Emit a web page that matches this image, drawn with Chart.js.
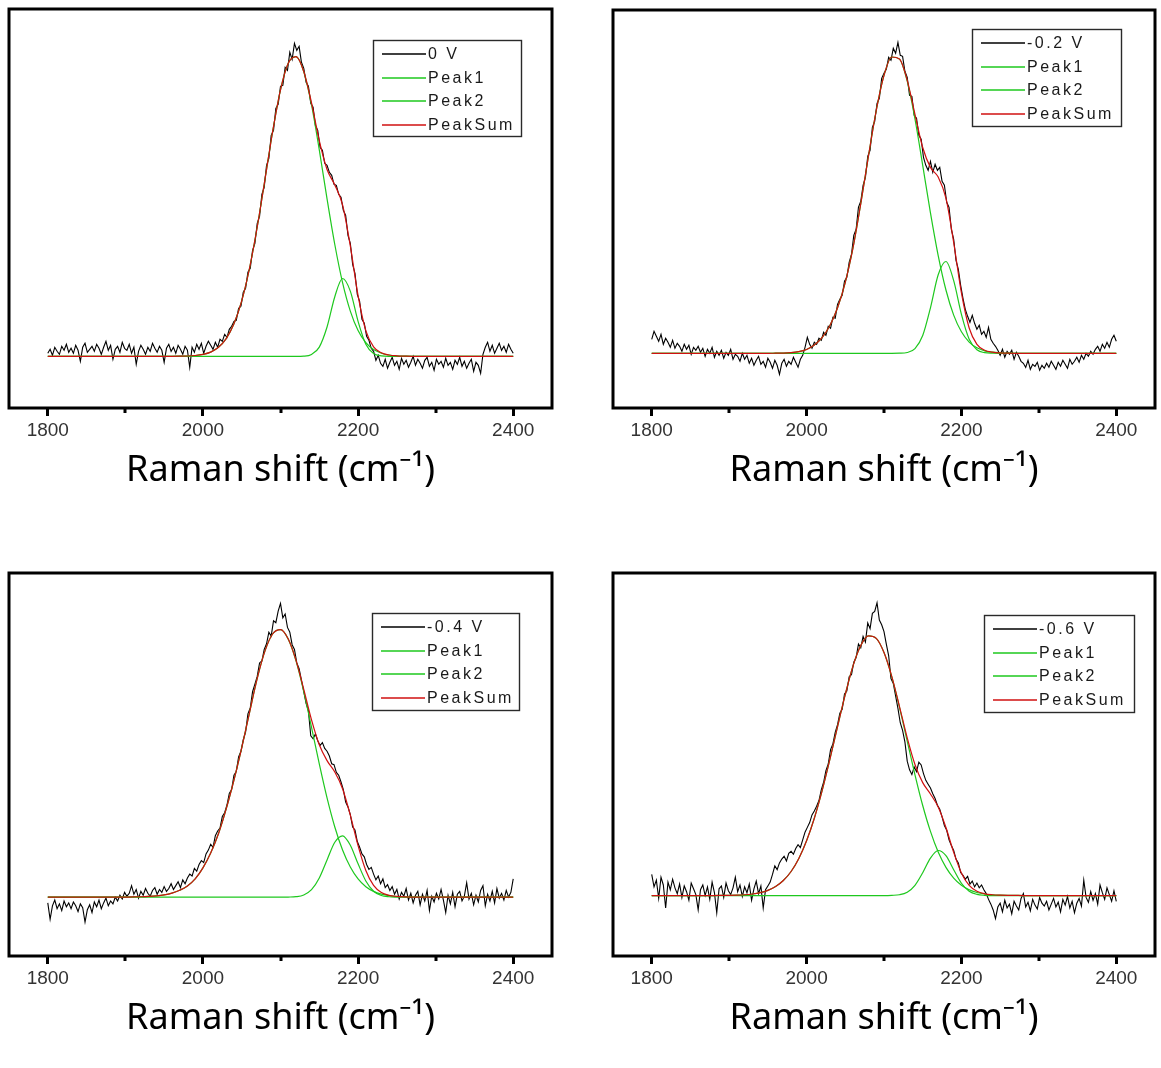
<!DOCTYPE html>
<html>
<head>
<meta charset="utf-8">
<title>Raman spectra, two-peak fits</title>
<script src="https://cdn.jsdelivr.net/npm/chart.js@4.4.1/dist/chart.umd.min.js"></script>
<style>
  html, body { margin: 0; padding: 0; background: #fff; }
  #page { position: relative; width: 1161px; height: 1068px; overflow: hidden; }
  #page canvas { position: absolute; }
</style>
</head>
<body>
<div id="page">
  <canvas id="c0" width="600" height="530" style="left:0;top:0"></canvas>
  <canvas id="c1" width="557" height="530" style="left:604px;top:0"></canvas>
  <canvas id="c2" width="600" height="504" style="left:0;top:564px"></canvas>
  <canvas id="c3" width="557" height="504" style="left:604px;top:564px"></canvas>
</div>
<script>
// x positions of the measured spectra (cm-1)
const RAW_X = [
  1800, 1803, 1806, 1809, 1812, 1815, 1818, 1821, 1824, 1827,
  1830, 1833, 1836, 1839, 1842, 1845, 1848, 1851, 1854, 1857,
  1860, 1863, 1866, 1869, 1872, 1875, 1878, 1881, 1884, 1887,
  1890, 1893, 1896, 1899, 1902, 1905, 1908, 1911, 1914, 1917,
  1920, 1923, 1926, 1929, 1932, 1935, 1938, 1941, 1944, 1947,
  1950, 1953, 1956, 1959, 1962, 1965, 1968, 1971, 1974, 1977,
  1980, 1983, 1986, 1989, 1992, 1995, 1998, 2001, 2004, 2007,
  2010, 2013, 2016, 2019, 2022, 2025, 2028, 2031, 2034, 2037,
  2040, 2043, 2046, 2049, 2052, 2055, 2058, 2061, 2064, 2067,
  2070, 2073, 2076, 2079, 2082, 2085, 2088, 2091, 2094, 2097,
  2100, 2103, 2106, 2109, 2112, 2115, 2118, 2121, 2124, 2127,
  2130, 2133, 2136, 2139, 2142, 2145, 2148, 2151, 2154, 2157,
  2160, 2163, 2166, 2169, 2172, 2175, 2178, 2181, 2184, 2187,
  2190, 2193, 2196, 2199, 2202, 2205, 2208, 2211, 2214, 2217,
  2220, 2223, 2226, 2229, 2232, 2235, 2238, 2241, 2244, 2247,
  2250, 2253, 2256, 2259, 2262, 2265, 2268, 2271, 2274, 2277,
  2280, 2283, 2286, 2289, 2292, 2295, 2298, 2301, 2304, 2307,
  2310, 2313, 2316, 2319, 2322, 2325, 2328, 2331, 2334, 2337,
  2340, 2343, 2346, 2349, 2352, 2355, 2358, 2361, 2364, 2367,
  2370, 2373, 2376, 2379, 2382, 2385, 2388, 2391, 2394, 2397,
  2400
];

// x positions of the fitted curves (cm-1)
const FIT_X = [
  1800, 1810, 1820, 1830, 1840, 1850, 1860, 1870, 1880, 1890,
  1900, 1910, 1920, 1930, 1940, 1950, 1960, 1970, 1980, 1990,
  2000, 2010, 2020, 2030, 2040, 2050, 2060, 2070, 2080, 2090,
  2100, 2110, 2120, 2130, 2140, 2150, 2160, 2170, 2180, 2190,
  2200, 2210, 2220, 2230, 2240, 2250, 2260, 2270, 2280, 2290,
  2300, 2310, 2320, 2330, 2340, 2350, 2360, 2370, 2380, 2390,
  2400
];

const TICK_VALUES = [1800, 1900, 2000, 2100, 2200, 2300, 2400];
const TICK_LABELS = ['1800', '2000', '2200', '2400'];
const X_TITLE = 'Raman shift (cm\u207B\u00B9)';

const VOLTAGES = ['0 V', '-0.2 V', '-0.4 V', '-0.6 V'];
const FIT_NAMES = ['Peak1', 'Peak2', 'PeakSum'];

// measured intensity (a.u., baseline = 0), on RAW_X
const RAW_0V = [
  3, 7, 1, 9, 5, 2, 10, 6, 12, 4,
  8, 3, 11, 6, -5, 9, 13, 4, 7, 10,
  5, 12, 8, 2, 9, 15, 6, 11, -3, 7,
  10, 4, 14, 8, 6, 12, 3, 9, -8, 5,
  11, 7, 2, 9, 5, 13, 8, 4, 10, 6,
  -6, 8, 12, 5, 9, 3, 11, 7, 2, 10,
  6, -11, 9, 4, 12, 7, 13, 3, 10, 15,
  11, 7, 14, 9, 17, 15, 22, 19, 27, 30,
  35, 36, 48, 50, 64, 68, 84, 88, 106, 113,
  133, 140, 162, 169, 191, 198, 221, 226, 248, 252,
  270, 271, 289, 286, 304, 297, 313, 306, 310, 294,
  288, 274, 270, 253, 249, 231, 226, 209, 206, 193,
  191, 184, 181, 172, 171, 162, 159, 146, 141, 121,
  113, 92, 83, 62, 55, 37, 33, 20, 16, 8,
  5, -4, 1, -7, -10, -3, -12, -6, -1, -9,
  -5, -13, -2, -8, -4, -11, -6, 0, -9, -3,
  -7, -12, -4, -1, -10, -6, -14, -3, -8, -5,
  -11, -2, -9, -6, -13, -4, -8, -1, -10, -5,
  -12, -7, -3, -15, -6, -9, -17, 2, 9, 14,
  5, 11, 3, 8, 13, 6, 10, 4, 12, 7,
  3
];
const RAW_02V = [
  14, 22, 17, 12, 19, 9, 15, 11, 6, 13,
  5, 10, 7, 2, 9, 4, 8, -1, 6, 3,
  7, 1, 5, -3, 4, 0, 6, -4, 2, -2,
  3, -5, 1, -2, 4, -6, -1, -3, -8, 0,
  -6, -2, -10, -5, -12, -7, -3, -11, -8, -14,
  -5, -9, -15, -7, -12, -21, -10, -6, -13, -8,
  -11, -4, -9, -14, -6, -2, 6, 16, 9, 5,
  11, 9, 15, 13, 21, 18, 27, 25, 36, 35,
  49, 54, 58, 72, 76, 91, 99, 118, 124, 146,
  152, 168, 176, 197, 203, 226, 232, 250, 255, 275,
  280, 284, 296, 293, 305, 300, 311, 298, 297, 282,
  276, 258, 257, 238, 235, 218, 214, 196, 188, 183,
  192, 181, 189, 183, 186, 172, 168, 151, 146, 124,
  114, 93, 84, 68, 55, 44, 37, 31, 38, 30,
  24, 28, 19, 22, 16, 26, 14, 10, 7, 3,
  -2, 4, -4, 2, -1, 3, -6, 1, -3, -8,
  -10, -14, -7, -16, -11, -13, -9, -17, -12, -15,
  -10, -14, -8, -12, -16, -9, -13, -7, -11, -15,
  -6, -11, -8, -4, -9, -2, -6, 0, -3, 2,
  -1, 4, 7, 2, 9, 5, 11, 6, 14, 18,
  12
];
const RAW_04V = [
  -6, -23, -9, -3, -12, -7, -14, -4, -10, -6,
  -12, -5, -9, -15, -7, -11, -26, -13, -8, -16,
  -5, -10, -3, -12, -6, -1, -9, -4, -7, 0,
  -4, 2, -2, 5, 1, 4, 12, 3, 8, -1,
  6, 2, 9, 4, 1, 7, 10, 3, 8, 5,
  11, 6, 9, 14, 8, 12, 16, 10, 18, 14,
  20, 24, 22, 30, 27, 34, 38, 36, 45, 49,
  55, 52, 64, 69, 72, 84, 88, 96, 108, 112,
  127, 131, 146, 152, 164, 172, 191, 197, 214, 222,
  230, 244, 246, 258, 264, 276, 272, 288, 286, 298,
  306, 291, 295, 281, 276, 263, 258, 244, 238, 226,
  214, 202, 194, 168, 165, 170, 163, 158, 161, 155,
  152, 147, 139, 138, 130, 127, 120, 112, 99, 94,
  86, 73, 70, 58, 52, 45, 42, 34, 29, 31,
  24, 18, 22, 14, 19, 10, 13, 7, 11, 3,
  8, -2, 5, 1, 9, -3, 4, -6, 2, 6,
  -8, 3, -4, 7, -14, 1, -5, 4, -2, 8,
  -3, -16, 2, -7, 5, -10, 3, 6, -4, 1,
  15, -2, 4, -8, 2, -5, 7, 12, -9, 3,
  -4, 6, -6, 9, -1, 4, -3, 7, 0, 5,
  19
];
const RAW_06V = [
  22, 9, 16, -3, 19, 11, -13, 14, 6, 17,
  8, 2, 12, -2, 10, 4, -5, 13, 7, 1,
  -15, 6, 11, 0, 9, -4, 14, 3, -18, 7,
  10, -2, 13, 5, 1, 8, 19, 4, 11, -1,
  9, 3, 12, -5, 7, 15, 2, 10, -13, 6,
  10, 14, 22, 31, 27, 34, 38, 41, 36, 44,
  46, 43, 49, 53, 50, 58, 66, 71, 76, 84,
  88, 93, 99, 110, 118, 130, 137, 152, 158, 170,
  178, 190, 194, 210, 213, 228, 230, 243, 248, 262,
  258, 270, 264, 284, 278, 294, 296, 305, 287, 282,
  275, 262, 250, 226, 221, 208, 195, 180, 172, 160,
  140, 131, 126, 134, 129, 139, 136, 127, 120, 116,
  112, 106, 101, 94, 90, 82, 73, 68, 58, 52,
  47, 38, 34, 24, 21, 17, 20, 12, 15, 9,
  13, 8, 11, 6, 2, -4, -9, -15, -24, -12,
  -8, -17, -5, -13, -9, -19, -6, -11, -15, -3,
  2, -12, -7, -16, -4, -10, -14, -2, -8, -11,
  -6, -15, -9, -3, -12, -7, -17, -4, -10, -1,
  -13, -6, -18, -8, -3, -11, 16, -2, -7, 4,
  -5, 2, -9, 11, 3, -4, 8, 1, -6, 5,
  -6
];

// fitted components, on FIT_X
const PEAK1_0V = [
  0, 0, 0, 0, 0, 0, 0, 0, 0, 0,
  0, 0, 0, 0, 0, 0, 0, 0.1, 0.3, 0.8,
  1.9, 4.2, 9.0, 17.7, 32.5, 55.4, 87.8, 129.3, 177.0, 225.3,
  266.5, 293.1, 299.6, 284.6, 251.4, 206.4, 157.5, 111.8, 73.7, 45.2,
  25.7, 13.6, 6.7, 3.1, 1.3, 0.5, 0.2, 0, 0, 0,
  0, 0, 0, 0, 0, 0, 0, 0, 0, 0,
  0
];
const PEAK2_0V = [
  0, 0, 0, 0, 0, 0, 0, 0, 0, 0,
  0, 0, 0, 0, 0, 0, 0, 0, 0, 0,
  0, 0, 0, 0, 0, 0, 0, 0, 0, 0,
  0, 0, 0, 0.2, 1.9, 9.2, 29.3, 59.6, 77.8, 65.2,
  35.0, 12.0, 2.7, 0.4, 0, 0, 0, 0, 0, 0,
  0, 0, 0, 0, 0, 0, 0, 0, 0, 0,
  0
];
const SUM_0V = [
  0, 0, 0, 0, 0, 0, 0, 0, 0, 0,
  0, 0, 0, 0, 0, 0, 0, 0.1, 0.3, 0.8,
  1.9, 4.2, 9.0, 17.7, 32.5, 55.4, 87.8, 129.3, 177.0, 225.3,
  266.5, 293.1, 299.6, 284.8, 253.3, 215.6, 186.8, 171.4, 151.5, 110.4,
  60.7, 25.6, 9.4, 3.5, 1.3, 0.5, 0.2, 0, 0, 0,
  0, 0, 0, 0, 0, 0, 0, 0, 0, 0,
  0
];

const PEAK1_02V = [
  0, 0, 0, 0, 0, 0, 0, 0, 0, 0,
  0, 0, 0, 0, 0, 0, 0.1, 0.2, 0.6, 1.6,
  3.8, 8.2, 15.6, 27.5, 45.5, 71.0, 105.6, 149.7, 197.6, 242.8,
  277.9, 296.3, 294.2, 272.1, 234.3, 188.0, 140.4, 97.7, 63.3, 38.2,
  21.5, 11.2, 5.5, 2.5, 1.1, 0.4, 0.1, 0, 0, 0,
  0, 0, 0, 0, 0, 0, 0, 0, 0, 0,
  0
];
const PEAK2_02V = [
  0, 0, 0, 0, 0, 0, 0, 0, 0, 0,
  0, 0, 0, 0, 0, 0, 0, 0, 0, 0,
  0, 0, 0, 0, 0, 0, 0, 0, 0, 0,
  0, 0, 0.1, 0.8, 4.7, 17.8, 45.5, 78.5, 91.8, 72.6,
  38.9, 14.1, 3.5, 0.6, 0.1, 0, 0, 0, 0, 0,
  0, 0, 0, 0, 0, 0, 0, 0, 0, 0,
  0
];
const SUM_02V = [
  0, 0, 0, 0, 0, 0, 0, 0, 0, 0,
  0, 0, 0, 0, 0, 0, 0.1, 0.2, 0.6, 1.6,
  3.8, 8.2, 15.6, 27.5, 45.5, 71.0, 105.6, 149.7, 197.6, 242.8,
  277.9, 296.3, 294.3, 272.9, 239.0, 205.8, 185.9, 176.2, 155.1, 110.8,
  60.4, 25.3, 9.0, 3.1, 1.2, 0.4, 0.1, 0, 0, 0,
  0, 0, 0, 0, 0, 0, 0, 0, 0, 0,
  0
];

const PEAK1_04V = [
  0, 0, 0, 0, 0, 0, 0, 0, 0, 0,
  0.1, 0.2, 0.4, 0.8, 1.4, 2.4, 4.2, 7.2, 11.6, 19.0,
  30.5, 46.0, 66.0, 92.0, 122.0, 155.5, 192.1, 227.9, 256.6, 274.4,
  278.7, 268.8, 246.2, 214.2, 176.9, 138.8, 103.4, 73.1, 49.1, 31.4,
  19.0, 10.9, 6.0, 3.1, 1.5, 0.7, 0.3, 0.1, 0, 0,
  0, 0, 0, 0, 0, 0, 0, 0, 0, 0,
  0
];
const PEAK2_04V = [
  0, 0, 0, 0, 0, 0, 0, 0, 0, 0,
  0, 0, 0, 0, 0, 0, 0, 0, 0, 0,
  0, 0, 0, 0, 0, 0, 0, 0, 0, 0,
  0, 0.1, 0.5, 2.3, 7.8, 20.0, 38.8, 57.2, 63.9, 54.1,
  34.7, 16.9, 6.2, 1.7, 0.4, 0.1, 0, 0, 0, 0,
  0, 0, 0, 0, 0, 0, 0, 0, 0, 0,
  0
];
const SUM_04V = [
  0, 0, 0, 0, 0, 0, 0, 0, 0, 0,
  0.1, 0.2, 0.4, 0.8, 1.4, 2.4, 4.2, 7.2, 11.6, 19.0,
  30.5, 46.0, 66.0, 92.0, 122.0, 155.5, 192.1, 227.9, 256.6, 274.4,
  278.7, 268.9, 246.7, 216.5, 184.7, 158.8, 142.2, 130.3, 113.0, 85.5,
  53.7, 27.8, 12.2, 4.8, 1.9, 0.8, 0.3, 0.1, 0, 0,
  0, 0, 0, 0, 0, 0, 0, 0, 0, 0,
  0
];

const PEAK1_06V = [
  0, 0, 0, 0, 0, 0, 0, 0, 0, 0.1,
  0.2, 0.4, 0.8, 1.6, 3.0, 5.4, 9.4, 15.6, 25.0, 38.6,
  57.0, 80.5, 109.0, 141.5, 176.0, 209.5, 239.2, 260.4, 270.4, 267.9,
  253.1, 228.1, 196.1, 160.8, 125.8, 93.8, 66.8, 45.3, 29.3, 18.1,
  10.7, 6.0, 3.2, 1.6, 0.8, 0.4, 0.2, 0.1, 0, 0,
  0, 0, 0, 0, 0, 0, 0, 0, 0, 0,
  0
];
const PEAK2_06V = [
  0, 0, 0, 0, 0, 0, 0, 0, 0, 0,
  0, 0, 0, 0, 0, 0, 0, 0, 0, 0,
  0, 0, 0, 0, 0, 0, 0, 0, 0, 0,
  0, 0.2, 0.8, 3.5, 10.7, 23.8, 39.0, 46.9, 41.5, 26.9,
  12.8, 4.5, 1.2, 0.2, 0, 0, 0, 0, 0, 0,
  0, 0, 0, 0, 0, 0, 0, 0, 0, 0,
  0
];
const SUM_06V = [
  0, 0, 0, 0, 0, 0, 0, 0, 0, 0.1,
  0.2, 0.4, 0.8, 1.6, 3.0, 5.4, 9.4, 15.6, 25.0, 38.6,
  57.0, 80.5, 109.0, 141.5, 176.0, 209.5, 239.2, 260.4, 270.4, 267.9,
  253.1, 228.3, 196.9, 164.3, 136.5, 117.6, 105.8, 92.2, 70.8, 45.0,
  23.5, 10.5, 4.4, 1.8, 0.8, 0.4, 0.2, 0.1, 0, 0,
  0, 0, 0, 0, 0, 0, 0, 0, 0, 0,
  0
];

const BLACK = '#000000';
const GREEN = '#1ec81e';
const RED = '#d01010';

// frame round the plot area + short minor ticks under it
const framePlugin = {
  id: 'frame',
  afterDatasetsDraw(chart) {
    const { ctx, chartArea: a } = chart;
    const x = chart.scales.x;
    ctx.save();
    ctx.strokeStyle = '#000';
    ctx.lineWidth = 3;
    ctx.strokeRect(a.left, a.top, a.right - a.left, a.bottom - a.top);
    ctx.beginPath();
    TICK_VALUES.filter(v => !TICK_LABELS.includes(String(v))).forEach(v => {
      const px = Math.round(x.getPixelForValue(v));
      ctx.moveTo(px, a.bottom);
      ctx.lineTo(px, a.bottom + 5);
    });
    ctx.stroke();
    ctx.restore();
  }
};

// Origin-style boxed legend
const boxLegend = {
  id: 'boxLegend',
  afterDraw(chart, args, opts) {
    const { ctx } = chart;
    const { x, y, w, h } = opts;
    ctx.save();
    ctx.fillStyle = '#fff';
    ctx.fillRect(x, y, w, h);
    ctx.strokeStyle = '#2a2a2a';
    ctx.lineWidth = 1.4;
    ctx.strokeRect(x + 0.5, y + 0.5, w, h);
    ctx.font = '16px "Liberation Sans", Arial, sans-serif';
    ctx.letterSpacing = '2.5px';
    ctx.textBaseline = 'middle';
    chart.data.datasets.forEach((ds, i) => {
      const ry = Math.round(y + 14 + i * 23.5);
      ctx.strokeStyle = ds.borderColor;
      ctx.lineWidth = 1.6;
      ctx.beginPath();
      ctx.moveTo(x + 9, ry);
      ctx.lineTo(x + 53, ry);
      ctx.stroke();
      ctx.fillStyle = '#1a1a1a';
      ctx.fillText(ds.label, x + 55, ry + 1);
    });
    ctx.restore();
  }
};

const points = (xs, ys) => xs.map((x, i) => ({ x, y: ys[i] }));

function makePanel(id, cfg) {
  const datasets = [
    { label: cfg.label, data: points(RAW_X, cfg.raw), borderColor: BLACK, borderWidth: 1.1, order: 4 },
    { label: FIT_NAMES[0], data: points(FIT_X, cfg.peak1), borderColor: GREEN, borderWidth: 1.2, cubicInterpolationMode: 'monotone', order: 3 },
    { label: FIT_NAMES[1], data: points(FIT_X, cfg.peak2), borderColor: GREEN, borderWidth: 1.2, cubicInterpolationMode: 'monotone', order: 2 },
    { label: FIT_NAMES[2], data: points(FIT_X, cfg.sum), borderColor: RED, borderWidth: 1.2, cubicInterpolationMode: 'monotone', order: 1 }
  ];

  return new Chart(document.getElementById(id), {
    type: 'line',
    data: { datasets },
    options: {
      responsive: false,
      animation: false,
      elements: { point: { radius: 0 }, line: { fill: false } },
      layout: { padding: cfg.padding },
      plugins: {
        legend: { display: false },
        tooltip: { enabled: false },
        boxLegend: cfg.legend
      },
      scales: {
        x: {
          type: 'linear',
          min: 1750,
          max: 2450,
          afterBuildTicks: s => { s.ticks = TICK_VALUES.map(v => ({ value: v })); },
          afterFit: s => { s.height = 112; },
          ticks: {
            autoSkip: false,
            maxRotation: 0,
            padding: 3,
            color: '#333',
            font: { family: '"Liberation Sans", Arial, sans-serif', size: 19 },
            callback: v => TICK_LABELS.includes(String(v)) ? String(v) : ''
          },
          grid: {
            drawOnChartArea: false,
            drawTicks: true,
            tickLength: 8,
            tickWidth: 3,
            tickColor: c => TICK_LABELS.includes(String(c.tick && c.tick.value)) ? '#000' : 'rgba(0,0,0,0)'
          },
          border: { display: false },
          title: {
            display: true,
            text: X_TITLE,
            color: '#000',
            font: { family: '"Noto Sans", sans-serif', size: 36 },
            padding: { top: 0, bottom: 28 }
          }
        },
        y: { display: false, min: cfg.yMin, max: cfg.yMax }
      }
    },
    plugins: [framePlugin, boxLegend]
  });
}

makePanel('c0', {
  label: VOLTAGES[0], raw: RAW_0V, peak1: PEAK1_0V, peak2: PEAK2_0V, sum: SUM_0V,
  yMin: -51.7, yMax: 347.3,
  padding: { left: 9, top: 9, right: 48, bottom: 10 },
  legend: { x: 373, y: 40, w: 148, h: 96 }
});
makePanel('c1', {
  label: VOLTAGES[1], raw: RAW_02V, peak1: PEAK1_02V, peak2: PEAK2_02V, sum: SUM_02V,
  yMin: -54.7, yMax: 343.3,
  padding: { left: 9, top: 10, right: 6, bottom: 10 },
  legend: { x: 368, y: 29, w: 149, h: 97 }
});
makePanel('c2', {
  label: VOLTAGES[2], raw: RAW_04V, peak1: PEAK1_04V, peak2: PEAK2_04V, sum: SUM_04V,
  yMin: -61.3, yMax: 337.7,
  padding: { left: 9, top: 9, right: 48, bottom: 0 },
  legend: { x: 372, y: 49, w: 147, h: 97 }
});
makePanel('c3', {
  label: VOLTAGES[3], raw: RAW_06V, peak1: PEAK1_06V, peak2: PEAK2_06V, sum: SUM_06V,
  yMin: -63, yMax: 336,
  padding: { left: 9, top: 9, right: 6, bottom: 0 },
  legend: { x: 380, y: 51, w: 150, h: 97 }
});
</script>
</body>
</html>
